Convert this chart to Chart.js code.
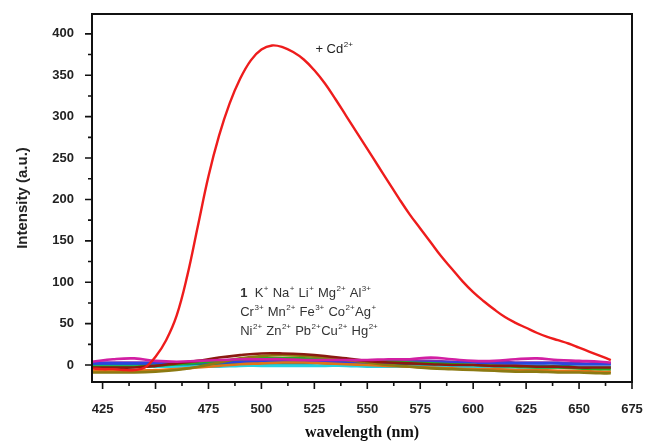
<!DOCTYPE html>
<html>
<head>
<meta charset="utf-8">
<script src="https://cdn.jsdelivr.net/npm/chart.js@4"></script>
<style>
  html, body { margin: 0; padding: 0; background: #fff; }
  #wrap { width: 645px; height: 446px; }
</style>
</head>
<body>
<div id="wrap"><canvas id="spectra"></canvas></div>
<script>
// wavelength grid for the Cd2+ curve (5 nm steps)
var waveCd = [];
for (var w = 420; w <= 665; w += 5) waveCd.push(w);
var cdValues = [-4, -5, -5, -6, -6, -3, 10, 30, 60, 108,
                168, 228, 277, 316, 346, 368, 381, 386, 384, 378,
                369, 356, 340, 321, 301, 281, 261, 241, 221, 201,
                182, 165, 148, 131, 116, 101, 88, 77, 67, 58,
                51, 45, 39, 34, 30, 26, 21, 16, 11, 6];

// wavelength grid for the flat curves (10 nm steps)
var waveLow = [420, 430, 440, 450, 460, 470, 480, 490, 500, 510, 520, 530, 540,
               550, 560, 570, 580, 590, 600, 610, 620, 630, 640, 650, 660, 665];
var lowNames = ["Hg2+", "Cu2+", "Pb2+", "Zn2+", "Ni2+", "Ag+", "Co2+", "Fe3+", "1"];
var lowColors = ["#d21fa3", "#8b1a10", "#8c7a12", "#22b022", "#e07418", "#2b45e0", "#25d2e2", "#7436b4", "#0b8585"];
var lowValues = [
  [4, 7, 8, 5, 4, 5, 6, 7, 7, 7, 6, 6, 6, 6, 7, 7, 9, 7, 5, 5, 7, 8, 6, 5, 4, 3],
  [-3, -3, -3, -1, 2, 5, 9, 12, 14, 14, 13, 11, 8, 5, 3, 2, 1, 0, 0, -1, -1, -2, -2, -3, -3, -3],
  [-9, -9, -9, -8, -6, -2, 3, 8, 11, 12, 11, 9, 6, 3, 0, -2, -4, -5, -6, -7, -8, -8, -9, -9, -10, -10],
  [-2, -2, -2, -1, 1, 3, 5, 7, 8, 8, 8, 7, 6, 5, 4, 3, 2, 1, 0, -1, -2, -3, -3, -4, -5, -5],
  [-7, -7, -7, -6, -5, -3, -1, 1, 2, 3, 3, 2, 1, 0, -1, -2, -3, -4, -5, -5, -6, -6, -7, -7, -8, -8],
  [2, 2, 2, 2, 2, 3, 3, 4, 4, 4, 4, 4, 4, 3, 3, 3, 3, 3, 3, 2, 2, 2, 2, 1, 1, 1],
  [-2, -2, -2, -2, -2, -2, -2, -1, -1, -1, -1, -1, -1, -2, -2, -2, -2, -2, -3, -3, -3, -3, -3, -3, -3, -3],
  [3, 3, 3, 3, 3, 4, 5, 6, 6, 6, 6, 6, 5, 5, 5, 5, 5, 4, 4, 4, 3, 3, 3, 2, 2, 2],
  [0, 0, 0, 0, 0, 1, 1, 2, 2, 2, 2, 2, 1, 1, 1, 0, 0, 0, 0, -1, -1, -1, -1, -2, -2, -2]
];

var xMajor = [425, 450, 475, 500, 525, 550, 575, 600, 625, 650, 675];
var yMajor = [0, 50, 100, 150, 200, 250, 300, 350, 400];

// annotation text, [text, superscript, bold] pieces
var cdLabel = [["+ Cd", "2+"]];
var ionLines = [
  [["1", "", true], ["  K", "+"], [" Na", "+"], [" Li", "+"], [" Mg", "2+"], [" Al", "3+"]],
  [["Cr", "3+"], [" Mn", "2+"], [" Fe", "3+"], [" Co", "2+"], ["Ag", "+"]],
  [["Ni", "2+"], [" Zn", "2+"], [" Pb", "2+"], ["Cu", "2+"], [" Hg", "2+"]]
];

function pts(xs, ys) {
  return xs.map(function (x, i) { return { x: x, y: ys[i] }; });
}

var datasets = [{
  label: "Cd2+",
  data: pts(waveCd, cdValues),
  borderColor: "#ee1c1c",
  borderWidth: 2.4
}];
lowValues.forEach(function (vals, i) {
  datasets.push({
    label: lowNames[i],
    data: pts(waveLow, vals),
    borderColor: lowColors[i],
    borderWidth: 2.6
  });
});

var frameAndTicks = {
  id: "frameAndTicks",
  afterDraw: function (chart) {
    var ctx = chart.ctx, a = chart.chartArea;
    var xs = chart.scales.x, ys = chart.scales.y;
    ctx.save();
    ctx.strokeStyle = "#111";
    ctx.lineWidth = 2;
    ctx.strokeRect(a.left, a.top, a.right - a.left, a.bottom - a.top);
    ctx.lineWidth = 1.6;
    ctx.beginPath();
    for (var v = 425; v <= 675; v += 12.5) {
      var px = xs.getPixelForValue(v);
      var len = (v - 425) % 25 === 0 ? 7 : 4;
      ctx.moveTo(px, a.bottom); ctx.lineTo(px, a.bottom + len);
    }
    for (var u = 0; u <= 400; u += 25) {
      var py = ys.getPixelForValue(u);
      var l2 = u % 50 === 0 ? 7 : 4;
      ctx.moveTo(a.left, py); ctx.lineTo(a.left - l2, py);
    }
    ctx.stroke();

    function writeLine(parts, x, y) {
      parts.forEach(function (p) {
        ctx.font = (p[2] ? "bold " : "") + "13px 'Liberation Sans', Arial, sans-serif";
        ctx.fillText(p[0], x, y);
        x += ctx.measureText(p[0]).width;
        if (p[1]) {
          ctx.font = "8px 'Liberation Sans', Arial, sans-serif";
          ctx.fillText(p[1], x + 0.5, y - 6);
          x += ctx.measureText(p[1]).width + 1;
        }
      });
    }
    ctx.fillStyle = "#222";
    ctx.textBaseline = "alphabetic";
    writeLine(cdLabel, xs.getPixelForValue(525.5), ys.getPixelForValue(377));
    ctx.fillStyle = "#333";
    var baseY = [82, 59, 36];
    ionLines.forEach(function (line, i) {
      writeLine(line, xs.getPixelForValue(490), ys.getPixelForValue(baseY[i]));
    });
    ctx.restore();
  }
};

new Chart(document.getElementById("spectra"), {
  type: "line",
  data: { datasets: datasets },
  options: {
    responsive: true,
    maintainAspectRatio: false,
    animation: false,
    layout: { padding: { top: 14, right: 13, left: 0, bottom: 0 } },
    elements: {
      point: { radius: 0 },
      line: { tension: 0.4 }
    },
    plugins: { legend: { display: false }, tooltip: { enabled: false } },
    scales: {
      x: {
        type: "linear",
        min: 420,
        max: 675,
        afterBuildTicks: function (s) { s.ticks = xMajor.map(function (v) { return { value: v }; }); },
        afterFit: function (s) { s.height = 64; s.paddingLeft = 0; s.paddingRight = 0; },
        grid: { display: false },
        border: { display: false },
        ticks: {
          padding: 12,
          maxRotation: 0,
          color: "#222",
          font: { family: "'Liberation Sans', Arial, sans-serif", size: 13, weight: "bold" }
        },
        title: {
          display: true,
          text: "wavelength (nm)",
          color: "#111",
          padding: { top: 4 },
          font: { family: "'Liberation Serif', 'Times New Roman', serif", size: 16, weight: "bold" }
        }
      },
      y: {
        min: -20.5,
        max: 424,
        afterBuildTicks: function (s) { s.ticks = yMajor.map(function (v) { return { value: v }; }); },
        afterFit: function (s) { s.width = 92; s.paddingTop = 0; s.paddingBottom = 0; },
        grid: { display: false },
        border: { display: false },
        ticks: {
          padding: 10,
          color: "#222",
          font: { family: "'Liberation Sans', Arial, sans-serif", size: 13, weight: "bold" }
        },
        title: {
          display: true,
          text: "Intensity (a.u.)",
          color: "#222",
          padding: { top: 14, bottom: 4 },
          font: { family: "'Liberation Sans', Arial, sans-serif", size: 15, weight: "bold" }
        }
      }
    }
  },
  plugins: [frameAndTicks]
});
</script>
</body>
</html>
